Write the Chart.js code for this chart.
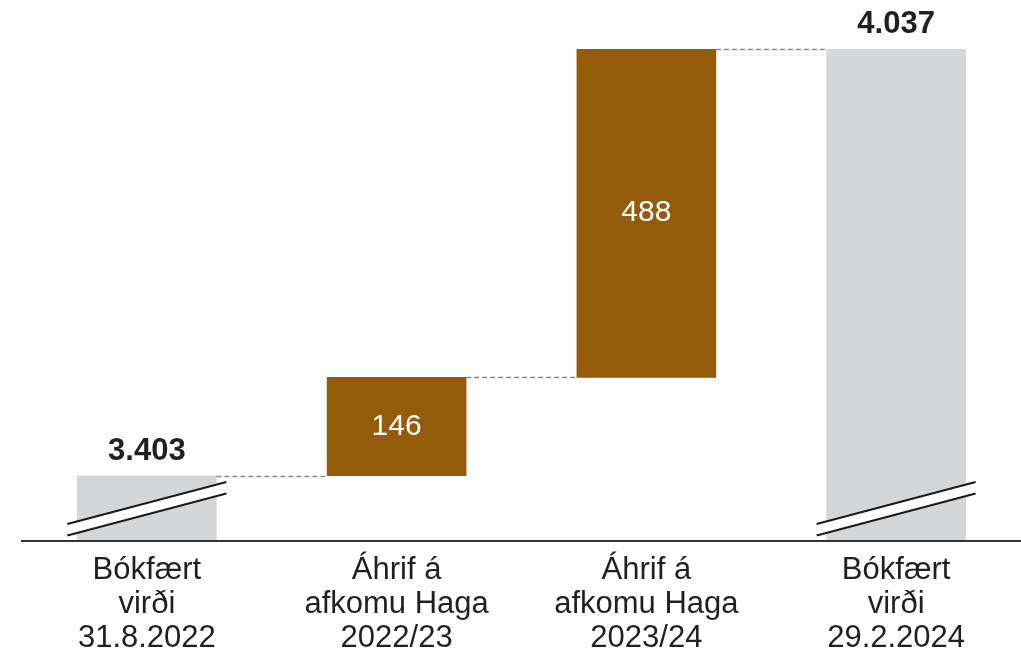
<!DOCTYPE html>
<html>
<head>
<meta charset="utf-8">
<script src="https://cdn.jsdelivr.net/npm/chart.js@4.4.1/dist/chart.umd.min.js"></script>
<style>
  html, body { margin: 0; padding: 0; background: #ffffff; }
  #wrap { width: 1021px; height: 650px; }
</style>
</head>
<body>
<div id="wrap"><canvas id="c" width="1021" height="650"></canvas></div>
<script>
// ---- data ----
const categories = [
  ["Bókfært", "virði", "31.8.2022"],
  ["Áhrif á", "afkomu Haga", "2022/23"],
  ["Áhrif á", "afkomu Haga", "2023/24"],
  ["Bókfært", "virði", "29.2.2024"]
];
const startValue = 3403;
const changeValues = [146, 488];
const endValue = 4037;
const valueLabels = ["3.403", "146", "488", "4.037"];
const axisBreakBase = 3306;   // value at the broken axis line
const barKinds = ["total", "change", "change", "total"];

// ---- build floating ranges ----
const ranges = [];
ranges.push([axisBreakBase, startValue]);
let running = startValue;
changeValues.forEach(v => { ranges.push([running, running + v]); running += v; });
ranges.push([axisBreakBase, endValue]);
const connectorValues = [startValue];
{ let r = startValue; changeValues.forEach(v => { r += v; connectorValues.push(r); }); }

const GRAY = "#d5d6d8";
const BROWN = "#945c08";
const TEXT = "#231f20";
const FONT = "'Liberation Sans', Arial, Helvetica, sans-serif";

const overlayPlugin = {
  id: "waterfallOverlay",
  afterDatasetsDraw(chart) {
    const ctx = chart.ctx;
    const meta = chart.getDatasetMeta(0);
    const ys = chart.scales.y;
    const bars = meta.data;

    // dashed connectors
    ctx.save();
    ctx.strokeStyle = "#8a8a8a";
    ctx.lineWidth = 1.5;
    ctx.setLineDash([5, 3]);
    for (let i = 0; i < bars.length - 1; i++) {
      const a = bars[i], b = bars[i + 1];
      const y = Math.round(ys.getPixelForValue(connectorValues[i])) + 0.5;
      ctx.beginPath();
      ctx.moveTo(a.x + a.width / 2, y);
      ctx.lineTo(b.x - b.width / 2, y);
      ctx.stroke();
    }
    ctx.restore();

    // axis-break marks on total bars
    bars.forEach((bar, i) => {
      if (barKinds[i] !== "total") return;
      const base = ys.getPixelForValue(axisBreakBase);
      const xl = bar.x - bar.width / 2 - 10;
      const xr = bar.x + bar.width / 2 + 10;
      const l1 = [base - 17, base - 59];
      const l2 = [base - 5.5, base - 47.5];
      ctx.save();
      ctx.fillStyle = "#ffffff";
      ctx.beginPath();
      ctx.moveTo(xl, l1[0]); ctx.lineTo(xr, l1[1]);
      ctx.lineTo(xr, l2[1]); ctx.lineTo(xl, l2[0]);
      ctx.closePath();
      ctx.fill();
      ctx.strokeStyle = "#1a1a1a";
      ctx.lineWidth = 2;
      ctx.beginPath();
      ctx.moveTo(xl, l1[0]); ctx.lineTo(xr, l1[1]);
      ctx.moveTo(xl, l2[0]); ctx.lineTo(xr, l2[1]);
      ctx.stroke();
      ctx.restore();
    });

    // value labels
    bars.forEach((bar, i) => {
      ctx.save();
      ctx.textAlign = "center";
      ctx.textBaseline = "middle";
      if (barKinds[i] === "total") {
        ctx.font = "bold 31px " + FONT;
        ctx.fillStyle = TEXT;
        const top = Math.min(bar.y, bar.base);
        ctx.fillText(valueLabels[i], bar.x, top - 24.5);
      } else {
        ctx.font = "30px " + FONT;
        ctx.fillStyle = "#ffffff";
        ctx.fillText(valueLabels[i], bar.x, (bar.y + bar.base) / 2);
      }
      ctx.restore();
    });
  }
};

new Chart(document.getElementById("c"), {
  type: "bar",
  data: {
    labels: categories,
    datasets: [{
      data: ranges,
      backgroundColor: barKinds.map(k => k === "total" ? GRAY : BROWN),
      borderWidth: 0,
      barThickness: 139,
      borderSkipped: false
    }]
  },
  options: {
    responsive: false,
    animation: false,
    devicePixelRatio: 1,
    layout: { padding: { left: 22, right: 0, top: 49, bottom: 0 } },
    plugins: {
      legend: { display: false },
      tooltip: { enabled: false },
      title: { display: false }
    },
    scales: {
      x: {
        grid: { display: false, drawTicks: false },
        border: { display: true, color: "#333333", width: 2, z: 1 },
        ticks: {
          color: TEXT,
          font: { family: FONT, size: 31, lineHeight: "34px" },
          padding: 12,
          maxRotation: 0,
          autoSkip: false
        },
        afterFit(scale) { scale.height = 109; }
      },
      y: {
        display: false,
        min: axisBreakBase,
        max: endValue
      }
    }
  },
  plugins: [overlayPlugin]
});
</script>
</body>
</html>
